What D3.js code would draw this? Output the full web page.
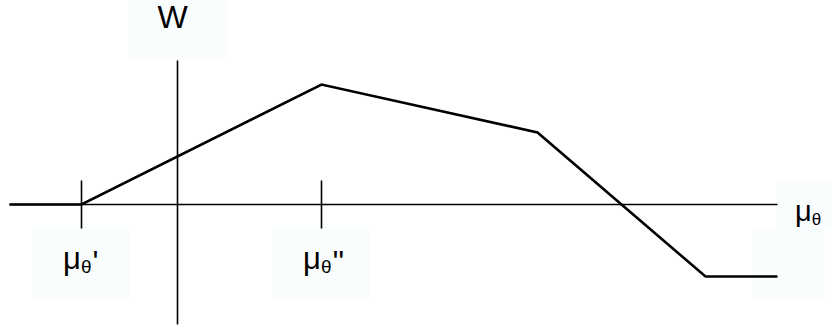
<!DOCTYPE html>
<html>
<head>
<meta charset="utf-8">
<script src="https://cdn.jsdelivr.net/npm/d3@7"></script>
<style>
  body { margin: 0; background: #fff; }
  text { font-family: "Liberation Sans", Arial, sans-serif; fill: #000; }
</style>
</head>
<body>
<div id="chart"></div>
<script>
var svgWidth = 832;
var svgHeight = 331;

// piecewise W(mu_theta) curve, abstract units
var muValues = [-3.5, -2, 3, 7.5, 11, 12.5];
var wValues = [0, 0, 5, 3, -3, -3];

// marked points on the mu axis
var tickValues = [-2, 3];
var tickLabels = ["'", "''"];

var xDomain = [-3.5, 12.5];
var yDomain = [-5, 6];

var x = d3.scaleLinear().domain(xDomain).range([9.5, 777.5]);
var y = d3.scaleLinear().domain(yDomain).range([324.5, 60.5]);

var svg = d3.select("#chart")
  .append("svg")
  .attr("width", svgWidth)
  .attr("height", svgHeight);

// faint label backgrounds
var boxes = [
  [129, 0, 98, 60],
  [32, 227, 98, 73],
  [273, 227, 97, 73],
  [777, 180, 55, 48],
  [753, 228, 72, 72]
];
svg.selectAll("rect.bg")
  .data(boxes)
  .enter()
  .append("rect")
  .attr("x", d => d[0])
  .attr("y", d => d[1])
  .attr("width", d => d[2])
  .attr("height", d => d[3])
  .attr("fill", "#fafdfe");

// horizontal axis
svg.append("line")
  .attr("x1", x(xDomain[0])).attr("x2", x(xDomain[1]))
  .attr("y1", y(0)).attr("y2", y(0))
  .attr("stroke", "#000").attr("stroke-width", 1.6);

// vertical axis
svg.append("line")
  .attr("x1", x(0)).attr("x2", x(0))
  .attr("y1", y(yDomain[1])).attr("y2", y(yDomain[0]))
  .attr("stroke", "#000").attr("stroke-width", 1.6);

// tick marks
svg.selectAll("line.tick")
  .data(tickValues)
  .enter()
  .append("line")
  .attr("x1", d => x(d)).attr("x2", d => x(d))
  .attr("y1", y(1)).attr("y2", y(-1))
  .attr("stroke", "#000").attr("stroke-width", 1.6);

// curve
var line = d3.line()
  .x((d, i) => x(muValues[i]))
  .y(d => y(d));

svg.append("path")
  .datum(wValues)
  .attr("d", line)
  .attr("fill", "none")
  .attr("stroke", "#000")
  .attr("stroke-width", 2.6)
  .attr("stroke-linejoin", "miter");

// axis title W
svg.append("text")
  .attr("x", x(0) - 5)
  .attr("y", 28)
  .attr("text-anchor", "middle")
  .style("font-size", "32px")
  .text("W");

// tick labels mu_theta' and mu_theta''
function muLabel(g, xPos, yPos, suffix, size) {
  var t = g.append("text")
    .attr("x", xPos)
    .attr("y", yPos)
    .style("font-size", size + "px");
  t.append("tspan").text("μ");
  t.append("tspan").attr("dy", 4.5).style("font-size", Math.round(size * 0.6) + "px").text("θ");
  if (suffix) t.append("tspan").attr("dx", 1).text(suffix);
}

tickValues.forEach((v, i) => {
  muLabel(svg, x(v) - 18.5, 268.5, tickLabels[i], 31);
});

muLabel(svg, 795, 220.5, "", 29);
</script>
</body>
</html>
